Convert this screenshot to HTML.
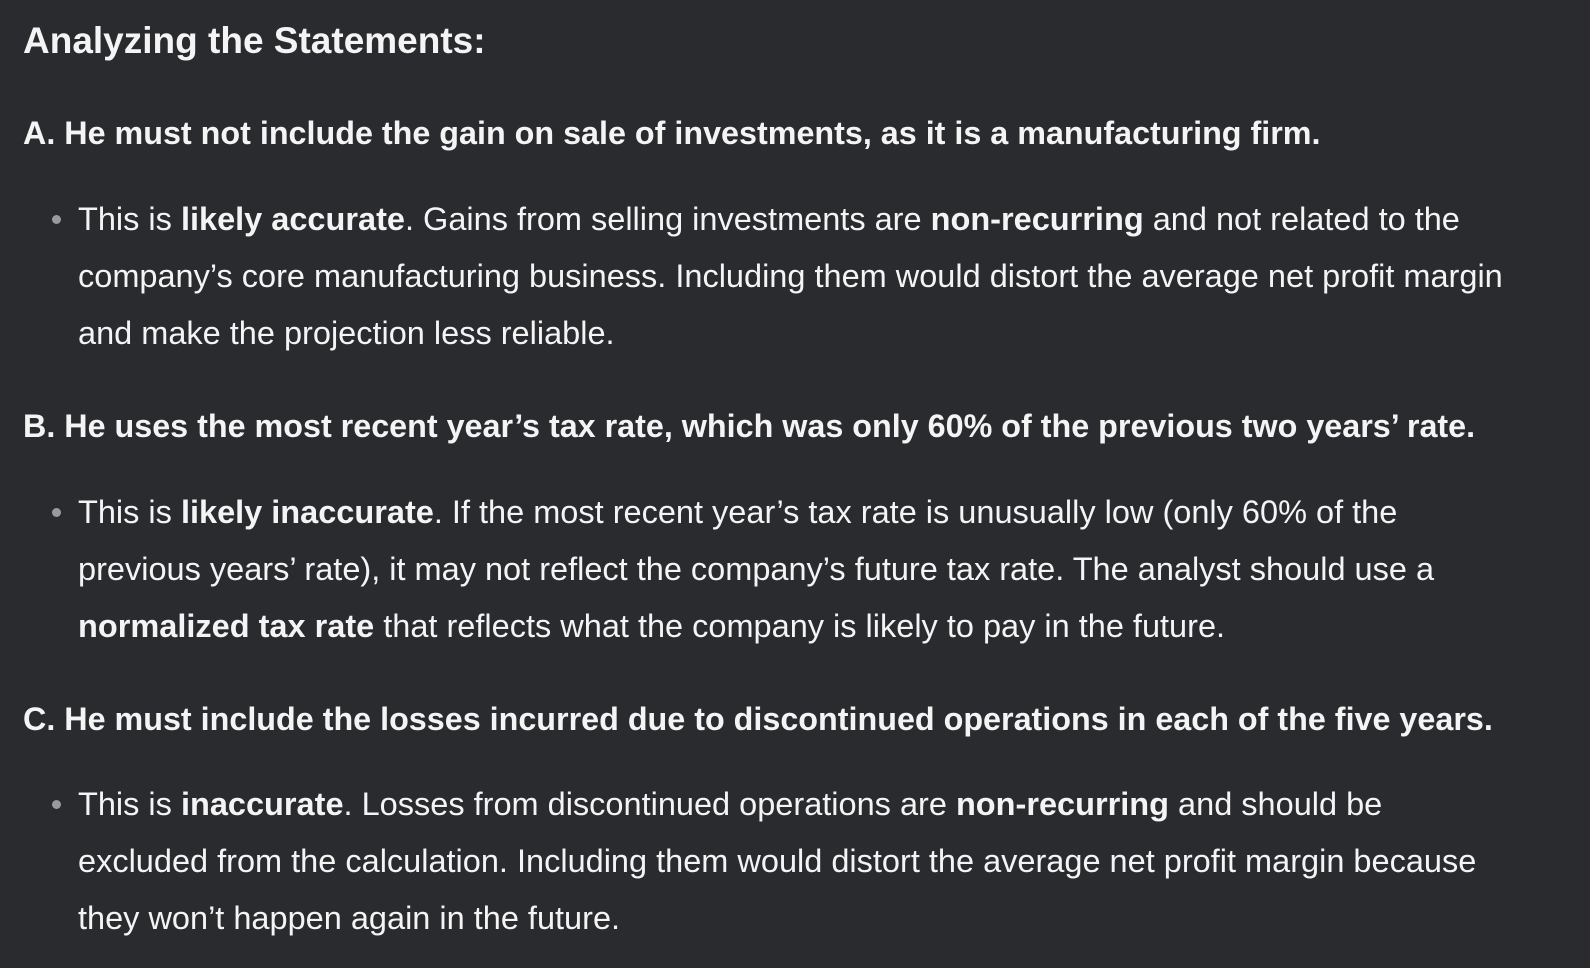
<!DOCTYPE html>
<html><head><meta charset="utf-8"><style>
html,body{margin:0;padding:0;}
body{width:1590px;height:968px;background:#2a2b2f;color:#f4f4f5;font-family:"Liberation Sans",sans-serif;position:relative;overflow:hidden;}
.l{position:absolute;white-space:nowrap;line-height:1;}
h1.l{font-size:37px;font-weight:bold;margin:0;left:23px;}
h2.l{font-size:32.3px;font-weight:bold;margin:0;left:23px;}
.t{font-size:32.5px;left:78px;}
.dot{position:absolute;left:52px;width:9px;height:9px;border-radius:50%;background:#9a9a9e;}
b{font-weight:bold;}
</style></head><body>
<h1 class="l" style="top:22px">Analyzing the Statements:</h1>

<h2 class="l" style="top:117px">A. He must not include the gain on sale of investments, as it is a manufacturing firm.</h2>
<div class="dot" style="top:215px"></div>
<div class="l t" style="top:203px">This is <b>likely accurate</b>. Gains from selling investments are <b>non-recurring</b> and not related to the</div>
<div class="l t" style="top:260px">company’s core manufacturing business. Including them would distort the average net profit margin</div>
<div class="l t" style="top:317px">and make the projection less reliable.</div>

<h2 class="l" style="top:410px">B. He uses the most recent year’s tax rate, which was only 60% of the previous two years’ rate.</h2>
<div class="dot" style="top:508px"></div>
<div class="l t" style="top:496px">This is <b>likely inaccurate</b>. If the most recent year’s tax rate is unusually low (only 60% of the</div>
<div class="l t" style="top:553px">previous years’ rate), it may not reflect the company’s future tax rate. The analyst should use a</div>
<div class="l t" style="top:610px"><b>normalized tax rate</b> that reflects what the company is likely to pay in the future.</div>

<h2 class="l" style="top:703px">C. He must include the losses incurred due to discontinued operations in each of the five years.</h2>
<div class="dot" style="top:800px"></div>
<div class="l t" style="top:788px">This is <b>inaccurate</b>. Losses from discontinued operations are <b>non-recurring</b> and should be</div>
<div class="l t" style="top:845px">excluded from the calculation. Including them would distort the average net profit margin because</div>
<div class="l t" style="top:902px">they won’t happen again in the future.</div>
</body></html>
